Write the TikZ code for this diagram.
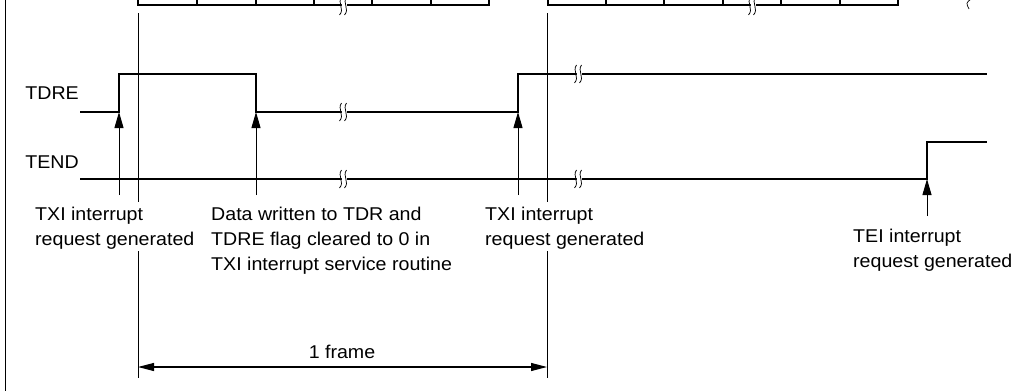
\documentclass[tikz,border=0pt]{standalone}
\usepackage{fontspec}
\setmainfont{Liberation Sans}[FakeStretch=1.06]
\usetikzlibrary{arrows.meta}
\tikzset{
  sig/.style={line width=1.15pt, line join=miter},
  guide/.style={line width=1pt},
  evarrow/.style={line width=1pt, -{Triangle[length=16pt,width=9pt]}},
  dimarrow/.style={line width=1.1pt, {Triangle[length=16pt,width=8pt]}-{Triangle[length=16pt,width=8pt]}},
  lbl/.style={font=\fontsize{18.5}{25}\selectfont, inner sep=0pt, align=left},
  brk/.pic={
    \fill[white] (1,-9) .. controls (-4,-3) and (2,3) .. (-4,9) -- (1,9) .. controls (7,3) and (1,-3) .. (6,-9) -- cycle;
    \draw[line width=0.75pt] (-1.5,-9) .. controls (-6,-3) and (2,3) .. (-3.5,9);
    \draw[line width=0.75pt] (3.5,-9) .. controls (-1,-3) and (7,3) .. (1.5,9);
  }
}
\begin{document}
\begin{tikzpicture}[x=1pt,y=-1pt]
\useasboundingbox (0,0) rectangle (1018,391);
% left border
\draw[line width=1pt] (5,0) -- (5,391);
% top data cells (cut off at the top)
\draw[sig] (138,-20) -- (138,5) -- (489,5) -- (489,-20);
\foreach \x in {197,256,314,372,431} \draw[sig] (\x,-20) -- (\x,5);
\draw[sig] (548,-20) -- (548,5) -- (898,5) -- (898,-20);
\foreach \x in {606,664,723,781,840} \draw[sig] (\x,-20) -- (\x,5);
\pic at (343,6) {brk};
\pic at (752,6) {brk};
\draw[line width=0.7pt] (971,-1) .. controls (966,3) .. (969,9);
% coordinates
\coordinate (tdre0) at (80,112);
\coordinate (r1) at (119,112);
\coordinate (f1) at (256,112);
\coordinate (r2) at (518,112);
\coordinate (tdreE) at (987,74);
\coordinate (tend0) at (80,179);
\coordinate (r3) at (927,179);
\coordinate (tendE) at (987,142);
% labels
\node[lbl, anchor=base east] (ltdre) at (79,99) {TDRE};
\node[lbl, anchor=base east] (ltend) at (79,168) {TEND};
\node[lbl, anchor=north west] (txia) at (35,207) {TXI interrupt\\request generated};
\node[lbl, anchor=north west] (data) at (211,207) {Data written to TDR and\\TDRE flag cleared to 0 in\\TXI interrupt service routine};
\node[lbl, anchor=north west] (txib) at (485,207) {TXI interrupt\\request generated};
\node[lbl, anchor=north west] (tei) at (853,229) {TEI interrupt\\request generated};
% signals
\draw[sig] (tdre0) -- (r1) -- (119,74) -- (256,74) -- (f1) -- (r2) -- (518,74) -- (tdreE);
\draw[sig] (tend0) -- (r3) -- (927,142) -- (tendE);
\pic at (343,112) {brk};
\pic at (578,74) {brk};
\pic at (343,179) {brk};
\pic at (578,179) {brk};
% frame guides
\coordinate (g1a) at (138,13); \coordinate (g1b) at (138,202);
\coordinate (g1c) at (138,251); \coordinate (g1d) at (138,378);
\coordinate (g2a) at (547,13); \coordinate (g2b) at (547,202);
\coordinate (g2c) at (547,251); \coordinate (g2d) at (547,378);
\draw[guide] (g1a) -- (g1b) (g1c) -- (g1d);
\draw[guide] (g2a) -- (g2b) (g2c) -- (g2d);
% event arrows
\draw[evarrow] (119,195) -- (r1);
\draw[evarrow] (256,195) -- (f1);
\draw[evarrow] (518,195) -- (r2);
\draw[evarrow] (927,216) -- (r3);
% 1 frame
\coordinate (fa) at (138,367); \coordinate (fb) at (547,367);
\draw[dimarrow] (fa) -- (fb);
\node[lbl, anchor=base] (frm) at (342,358) {1 frame};
\end{tikzpicture}
\end{document}
